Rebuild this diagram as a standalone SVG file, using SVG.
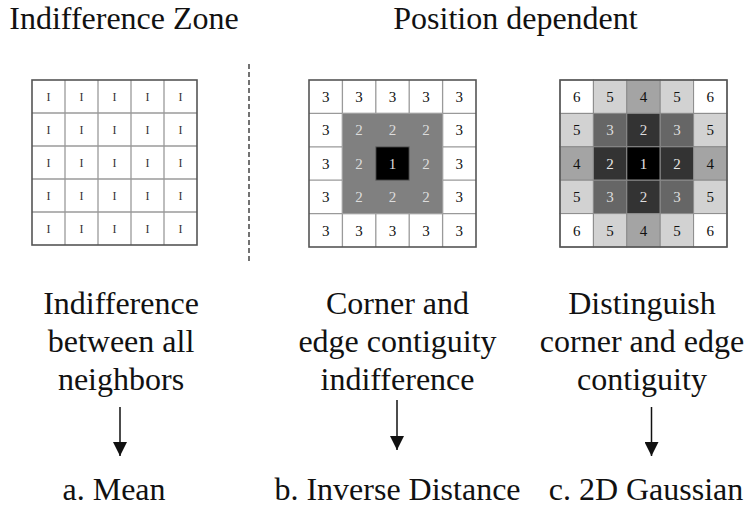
<svg xmlns="http://www.w3.org/2000/svg" width="744" height="509" viewBox="0 0 744 509">
<defs>
<style>
text{font-family:'Liberation Serif','Times New Roman',serif}
.t{font-size:32px;fill:#111;text-anchor:middle}
.c{font-size:15px;fill:#111;text-anchor:middle}
.i{font-size:12px;fill:#333;text-anchor:middle}
.gl{fill:none;stroke:#9a9a9a;stroke-width:1.3}
.ob{fill:none;stroke:#555;stroke-width:1.6}
.cl{stroke:#8a8a8a;stroke-width:1}
.ar{stroke:#111;stroke-width:1.5;fill:none}
</style>
<marker id="ah" markerUnits="userSpaceOnUse" markerWidth="14" markerHeight="14" refX="14" refY="7" orient="auto">
<path d="M0,0 L14,7 L0,14 z" fill="#111"/>
</marker>
</defs>
<rect width="744" height="509" fill="#fff"/>

<g id="titles">
<text class="t" x="124" y="29">Indifference Zone</text>
<text class="t" x="515.5" y="29">Position dependent</text>
</g>

<line id="divider" x1="249" y1="64" x2="249" y2="262" stroke="#444" stroke-width="1.5" stroke-dasharray="5,3"/>

<g id="grid-mean">
<rect x="32" y="80" width="165" height="165" fill="#fff"/>
<path class="gl" d="M65,80V245M98,80V245M131,80V245M164,80V245M32,113H197M32,146H197M32,179H197M32,212H197"/>
<rect class="ob" x="32" y="80" width="165" height="165"/>
<text class="i" x="48.5 81.5 114.5 147.5 180.5" y="100.5">IIIII</text>
<text class="i" x="48.5 81.5 114.5 147.5 180.5" y="133.5">IIIII</text>
<text class="i" x="48.5 81.5 114.5 147.5 180.5" y="166.5">IIIII</text>
<text class="i" x="48.5 81.5 114.5 147.5 180.5" y="199.5">IIIII</text>
<text class="i" x="48.5 81.5 114.5 147.5 180.5" y="232.5">IIIII</text>
</g>

<g id="grid-inverse">
<rect x="309" y="80" width="167" height="167" fill="#fff"/>
<path class="gl" d="M342.4,80V247M375.8,80V247M409.2,80V247M442.6,80V247M309,113.4H476M309,146.8H476M309,180.2H476M309,213.6H476"/>
<rect x="342.4" y="113.4" width="100.2" height="100.2" fill="#808080" stroke="#a0a0a0" stroke-width="1"/>
<rect x="375.8" y="146.8" width="33.4" height="33.4" fill="#000" stroke="#666" stroke-width="1"/>
<rect class="ob" x="309" y="80" width="167" height="167"/>
<text class="c" x="325.7 359.1 392.5 425.9 459.3" y="102">33333</text>
<text class="c" x="325.7 359.1 392.5 425.9 459.3" y="135.4">3<tspan fill="#ddd">222</tspan>3</text>
<text class="c" x="325.7 359.1 392.5 425.9 459.3" y="168.8">3<tspan fill="#ddd">212</tspan>3</text>
<text class="c" x="325.7 359.1 392.5 425.9 459.3" y="202.2">3<tspan fill="#ddd">222</tspan>3</text>
<text class="c" x="325.7 359.1 392.5 425.9 459.3" y="235.6">33333</text>
</g>

<g id="grid-gaussian">
<g class="cl">
<rect x="560" y="80" width="33.4" height="33.4" fill="#fff"/>
<rect x="593.4" y="80" width="33.4" height="33.4" fill="#d2d2d2"/>
<rect x="626.8" y="80" width="33.4" height="33.4" fill="#a4a4a4"/>
<rect x="660.2" y="80" width="33.4" height="33.4" fill="#d2d2d2"/>
<rect x="693.6" y="80" width="33.4" height="33.4" fill="#fff"/>

<rect x="560" y="113.4" width="33.4" height="33.4" fill="#d2d2d2"/>
<rect x="593.4" y="113.4" width="33.4" height="33.4" fill="#666"/>
<rect x="626.8" y="113.4" width="33.4" height="33.4" fill="#333"/>
<rect x="660.2" y="113.4" width="33.4" height="33.4" fill="#666"/>
<rect x="693.6" y="113.4" width="33.4" height="33.4" fill="#d2d2d2"/>

<rect x="560" y="146.8" width="33.4" height="33.4" fill="#a4a4a4"/>
<rect x="593.4" y="146.8" width="33.4" height="33.4" fill="#333"/>
<rect x="626.8" y="146.8" width="33.4" height="33.4" fill="#000"/>
<rect x="660.2" y="146.8" width="33.4" height="33.4" fill="#333"/>
<rect x="693.6" y="146.8" width="33.4" height="33.4" fill="#a4a4a4"/>

<rect x="560" y="180.2" width="33.4" height="33.4" fill="#d2d2d2"/>
<rect x="593.4" y="180.2" width="33.4" height="33.4" fill="#666"/>
<rect x="626.8" y="180.2" width="33.4" height="33.4" fill="#333"/>
<rect x="660.2" y="180.2" width="33.4" height="33.4" fill="#666"/>
<rect x="693.6" y="180.2" width="33.4" height="33.4" fill="#d2d2d2"/>

<rect x="560" y="213.6" width="33.4" height="33.4" fill="#fff"/>
<rect x="593.4" y="213.6" width="33.4" height="33.4" fill="#d2d2d2"/>
<rect x="626.8" y="213.6" width="33.4" height="33.4" fill="#a4a4a4"/>
<rect x="660.2" y="213.6" width="33.4" height="33.4" fill="#d2d2d2"/>
<rect x="693.6" y="213.6" width="33.4" height="33.4" fill="#fff"/>
</g>
<rect class="ob" x="560" y="80" width="167" height="167"/>
<text class="c" x="576.7 610.1 643.5 676.9 710.3" y="102">65456</text>
<text class="c" x="576.7 610.1 643.5 676.9 710.3" y="135.4">5<tspan fill="#ddd">323</tspan>5</text>
<text class="c" x="576.7 610.1 643.5 676.9 710.3" y="168.8">4<tspan fill="#e6e6e6">212</tspan>4</text>
<text class="c" x="576.7 610.1 643.5 676.9 710.3" y="202.2">5<tspan fill="#ddd">323</tspan>5</text>
<text class="c" x="576.7 610.1 643.5 676.9 710.3" y="235.6">65456</text>
</g>

<g id="desc-mean">
<text class="t" x="121" y="314">Indifference</text>
<text class="t" x="121" y="352">between all</text>
<text class="t" x="121" y="390">neighbors</text>
</g>
<g id="desc-inverse">
<text class="t" x="397.5" y="314">Corner and</text>
<text class="t" x="397.5" y="352">edge contiguity</text>
<text class="t" x="397.5" y="390">indifference</text>
</g>
<g id="desc-gaussian">
<text class="t" x="642" y="314">Distinguish</text>
<text class="t" x="642" y="352">corner and edge</text>
<text class="t" x="642" y="390">contiguity</text>
</g>

<g id="method-mean"><text class="t" x="114" y="500">a. Mean</text></g>
<g id="method-inverse"><text class="t" x="397.5" y="500">b. Inverse Distance</text></g>
<g id="method-gaussian"><text class="t" x="646" y="500">c. 2D Gaussian</text></g>

<g id="connectors">
<line class="ar" x1="120" y1="407" x2="120" y2="456" marker-end="url(#ah)"/>
<line class="ar" x1="397" y1="400" x2="397" y2="450" marker-end="url(#ah)"/>
<line class="ar" x1="651.5" y1="407" x2="651.5" y2="456" marker-end="url(#ah)"/>
</g>
</svg>
